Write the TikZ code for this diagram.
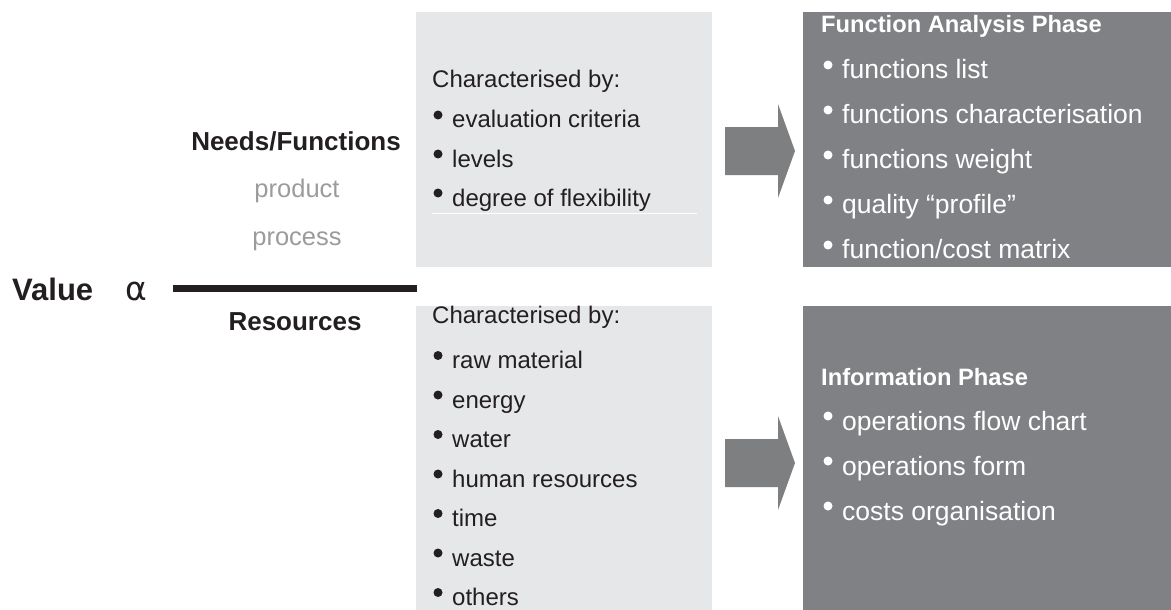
\documentclass[tikz,border=0pt]{standalone}
\usepackage{fontspec}
\setmainfont{Liberation Sans}
\newfontfamily\greekfont{DejaVu Sans}
\usetikzlibrary{positioning,calc}

\definecolor{boxlight}{HTML}{E6E7E8}
\definecolor{boxdark}{HTML}{808184}
\definecolor{arrowgrey}{HTML}{7D7F81}
\definecolor{inkdark}{HTML}{231F20}
\definecolor{inkgrey}{HTML}{9B9B9B}

\tikzset{
  lightbox/.style={fill=boxlight, inner sep=0, anchor=north west},
  darkbox/.style={fill=boxdark, inner sep=0, anchor=north west},
  lighttext/.style={text=inkdark, inner sep=0, anchor=base west, font=\fontsize{24}{28}\selectfont},
  darktext/.style={text=white, inner sep=0, anchor=base west, font=\fontsize{26.5}{30}\selectfont},
  darkhead/.style={darktext, font=\fontsize{23.7}{28}\selectfont\bfseries},
  sidehead/.style={text=inkdark, inner sep=0, anchor=base, font=\fontsize{26}{30}\selectfont\bfseries},
  sidegrey/.style={text=inkgrey, inner sep=0, anchor=base, font=\fontsize{25.5}{30}\selectfont},
}

\begin{document}
\begin{tikzpicture}[x=1pt, y=-1pt]
    \useasboundingbox (0,0) rectangle (1171,610);

    % Boxes
    \node[lightbox, minimum width=296pt, minimum height=255pt] (needsbox) at (416,12) {};
    \node[lightbox, minimum width=296pt, minimum height=304pt] (resbox) at (416,306) {};
    \node[darkbox, minimum width=368pt, minimum height=255pt] (fabox) at (803,12) {};
    \node[darkbox, minimum width=368pt, minimum height=304pt] (infobox) at (803,306) {};

    % Block arrows
    \foreach \yc in {151,463} {
        \fill[arrowgrey] (725,{\yc-24}) -- (778,{\yc-24}) -- (778,{\yc-47}) -- (795,\yc)
            -- (778,{\yc+47}) -- (778,{\yc+24}) -- (725,{\yc+24}) -- cycle;
    }

    % Value line
    \node[text=inkdark, inner sep=0, anchor=base west, font=\fontsize{31}{34}\selectfont\bfseries] (value) at (12,300) {Value};
    \node[text=inkdark, inner sep=0, anchor=base, font={\greekfont\fontsize{33}{36}\selectfont}] (alpha) at (136,300) {α};
    \coordinate (lineL) at (173,288.5);
    \coordinate (lineR) at (417,288.5);
    \draw[inkdark, line width=6.5pt] (lineL) -- (lineR);

    % Left labels
    \node[sidehead] (needs) at (296,150) {Needs/Functions};
    \node[sidegrey] (product) at (297,197) {product};
    \node[sidegrey] (process) at (297,245) {process};
    \node[sidehead] (res) at (295,330) {Resources};

    % Needs box
    \node[lighttext] (needshead) at (432,88) {Characterised by:};
    \foreach \t [count=\i] in {evaluation criteria, levels, degree of flexibility} {
        \node[lighttext] (need\i) at (452,{89+39*\i}) {\t};
        \fill[inkdark] ($(need\i.base west)+(-14,-13)$) circle (4.5pt);
    }
    \draw[white, line width=0.8pt] (432,213) -- (697,213);

    % Resources box
    \node[lighttext] (reshead) at (432,323) {Characterised by:};
    \foreach \t [count=\i] in {raw material, energy, water, human resources, time, waste, others} {
        \node[lighttext] (res\i) at (452,{329+39.5*\i}) {\t};
        \fill[inkdark] ($(res\i.base west)+(-14,-13)$) circle (4.5pt);
    }

    % Function Analysis Phase
    \node[darkhead] (fahead) at (821,33) {Function Analysis Phase};
    \foreach \t [count=\i] in {functions list, functions characterisation, functions weight, quality “profile”, function/cost matrix} {
        \node[darktext] (fa\i) at (842,{33+45*\i}) {\t};
        \fill[white] ($(fa\i.base west)+(-14,-13)$) circle (4.5pt);
    }

    % Information Phase
    \node[darkhead] (infohead) at (821,385) {Information Phase};
    \foreach \t [count=\i] in {operations flow chart, operations form, costs organisation} {
        \node[darktext] (info\i) at (842,{385+45*\i}) {\t};
        \fill[white] ($(info\i.base west)+(-14,-14)$) circle (4.5pt);
    }
\end{tikzpicture}
\end{document}
